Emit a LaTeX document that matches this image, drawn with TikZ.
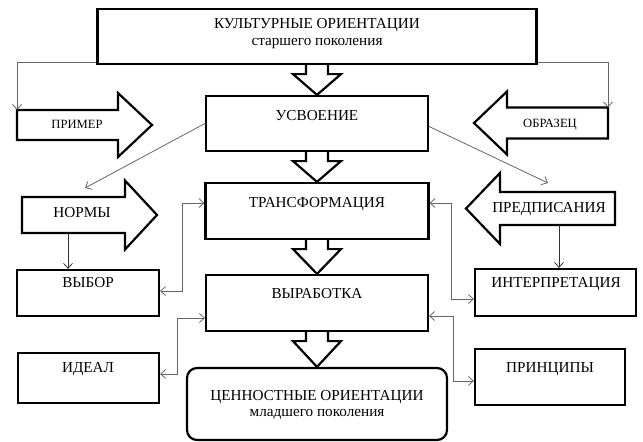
\documentclass[tikz,border=0pt]{standalone}
\usepackage{fontspec}
\setmainfont{Liberation Serif}
\usetikzlibrary{arrows.meta,calc}
\begin{document}
\begin{tikzpicture}
[x=1pt,y=-1pt,
  boxdecorate/.style={shape=rectangle,draw,line width=2.2pt,inner sep=0pt},%
  textdecorate/.style={anchor=base,inner sep=0pt,font=\fontsize{15.2}{18}\selectfont},%
  smalldecorate/.style={textdecorate,font=\fontsize{12.6}{15}\selectfont},%
  blockdecorate/.style={draw,line width=2.2pt,line join=miter},%
  linedecorate/.style={draw=black!60,line width=0.8pt},%
  >={Straight Barb[length=5pt,width=9pt]}]
\useasboundingbox (0,0) rectangle (643,442);
%% boxes
\foreach \nodename/\x/\y/\w/\h in {
  kult/317/36.5/439/55, usv/317/123.5/222/55,
  trans/317/211/223/56, vyrab/317/303/222/56,
  vybor/88/293/142/46, ideal/88.5/378/141/50,
  interp/555.5/292.5/161/47, princ/550/377/150/56}
{
  \node (\nodename) at (\x,\y) [boxdecorate,minimum width=\w pt,minimum height=\h pt] {};
}
\node (cenn) at (317,404) [boxdecorate,rounded corners=10pt,minimum width=260pt,minimum height=72pt] {};
%% block arrows
\foreach \nodename/\tail/\base/\tip/\cy/\bh/\hh in {
  prim/17/118/152/125/15/32, normy/22/125/157/215/18/34.5,
  obraz/608/507/474/123/15.5/31.5, predp/615/500/466/208.5/16.5/35.5}
{
  \draw[blockdecorate] (\tail,\cy-\bh) -- (\base,\cy-\bh) -- (\base,\cy-\hh) -- (\tip,\cy)
    -- (\base,\cy+\hh) -- (\base,\cy+\bh) -- (\tail,\cy+\bh) -- cycle;
  \coordinate (\nodename-top) at (\tail,\cy-\bh);
}
\foreach \startnode/\endnode in {kult/usv, usv/trans, trans/vyrab, vyrab/cenn}
{
  \draw[blockdecorate] ($(\startnode.south)+(-11,0)$) -- ++(0,9) -- ++(-13,0) -- (\endnode.north)
    -- ($(\startnode.south)+(24,9)$) -- ++(-13,0) -- ++(0,-9);
}
%% texts
\foreach \nodename/\x/\y/\txt in {
  kult-a/317/28/КУЛЬТУРНЫЕ ОРИЕНТАЦИИ, kult-b/317/45/старшего поколения,
  usv-t/317/120.5/УСВОЕНИЕ, trans-t/317/207.5/ТРАНСФОРМАЦИЯ, vyrab-t/317/298/ВЫРАБОТКА,
  cenn-a/317/400.5/ЦЕННОСТНЫЕ ОРИЕНТАЦИИ, cenn-b/317/416.5/младшего поколения,
  vybor-t/88/287/ВЫБОР, ideal-t/88/372/ИДЕАЛ,
  interp-t/556/287/ИНТЕРПРЕТАЦИЯ, princ-t/550/372/ПРИНЦИПЫ,
  normy-t/82/217/НОРМЫ, predp-t/549/212/ПРЕДПИСАНИЯ}
{
  \node (\nodename) at (\x,\y) [textdecorate] {\txt};
}
\node (prim-t) at (77,128) [smalldecorate] {ПРИМЕР};
\node (obraz-t) at (550,127) [smalldecorate] {ОБРАЗЕЦ};
%% connectors
\coordinate (normy-in) at (85,188);
\coordinate (predp-in) at (548,183);
\coordinate (normy-out) at (68,233);
\coordinate (predp-out) at (559,225);
\draw[linedecorate,->] ([yshift=3pt]kult.south west) -| (prim-top);
\draw[linedecorate,->] ([yshift=3pt]kult.south east) -| (obraz-top);
\draw[linedecorate,->] (usv.west) -- (normy-in);
\draw[linedecorate,->] ([yshift=-3pt]usv.east) -- (predp-in);
\draw[linedecorate,draw=black!80,->] (normy-out) -- (normy-out |- vybor.north);
\draw[linedecorate,draw=black!80,->] (predp-out) -- (predp-out |- interp.north);
\draw[linedecorate,<->] ([yshift=8pt]trans.west) -- ++(-22,0) |- ([yshift=2pt]vybor.east);
\draw[linedecorate,<->] ([yshift=8pt]trans.east) -- ++(22,0) |- ([yshift=-6.5pt]interp.west);
\draw[linedecorate,<->] ([yshift=-15pt]vyrab.west) -- ++(-28,0) |- ([yshift=4pt]ideal.east);
\draw[linedecorate,<->] ([yshift=-13pt]vyrab.east) -- ++(24,0) |- ([yshift=-4pt]princ.west);
\end{tikzpicture}
\end{document}
